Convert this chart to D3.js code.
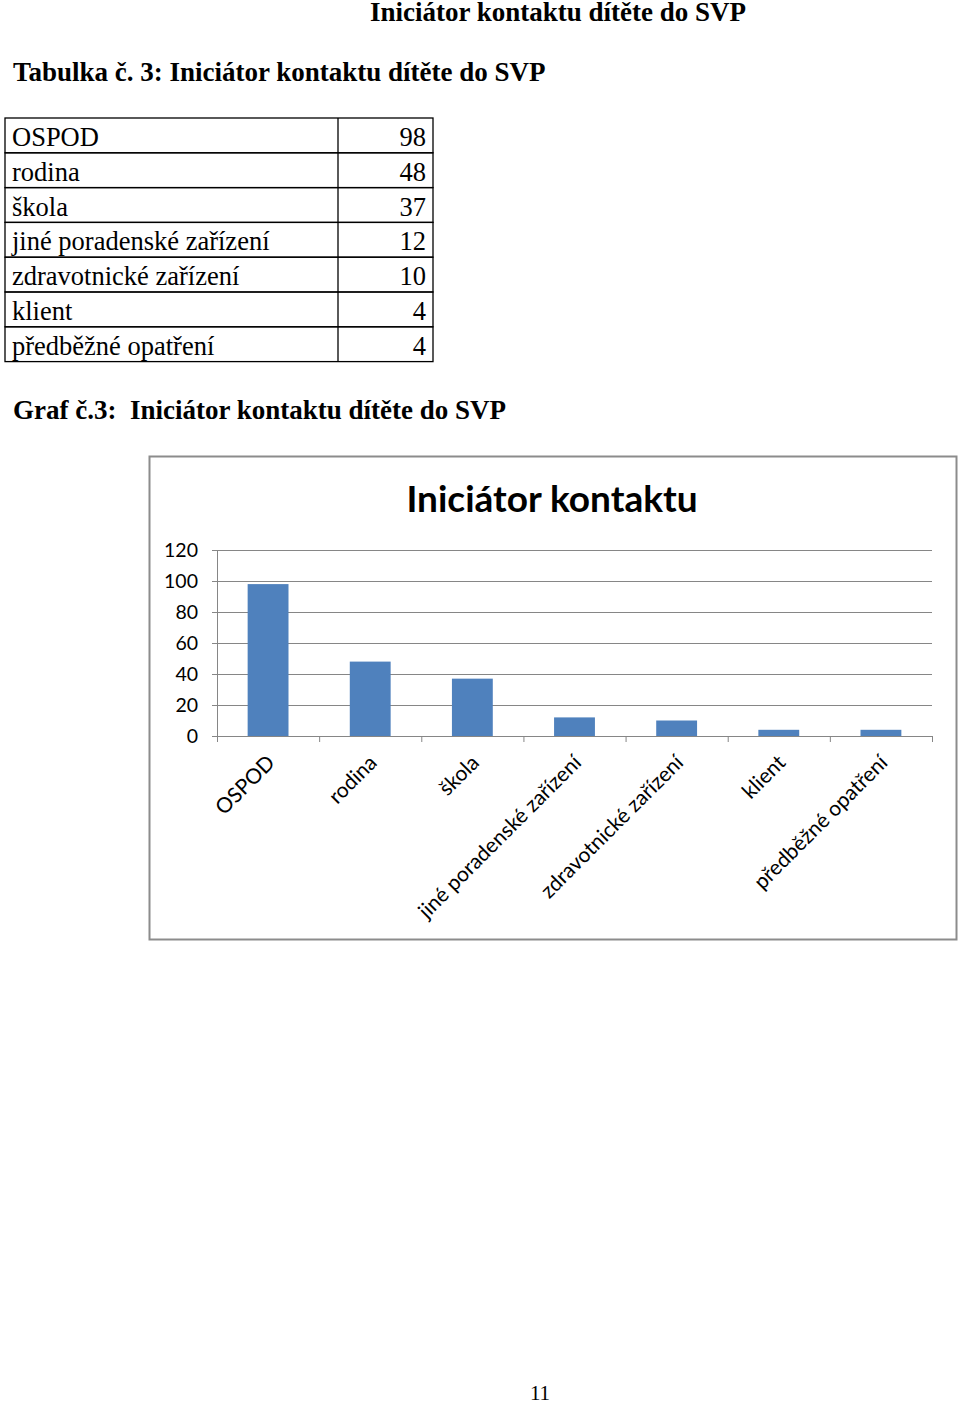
<!DOCTYPE html>
<html>
<head>
<meta charset="utf-8">
<script src="https://cdn.jsdelivr.net/npm/d3@7"></script>
<style>
  body { margin: 0; background: #fff; }
  svg text { fill: #000; }
</style>
</head>
<body>
<div id="page"></div>
<script>
// data
const categories = ["OSPOD", "rodina", "škola", "jiné poradenské zařízení", "zdravotnické zařízení", "klient", "předběžné opatření"]
const counts = [98, 48, 37, 12, 10, 4, 4]
const yTicks = [0, 20, 40, 60, 80, 100, 120]

const width = 960
const height = 1403

const svg = d3.select('#page')
    .append('svg')
    .attr('width', width)
    .attr('height', height)

const serif = "'Liberation Serif', 'Times New Roman', serif"
const sans = "Lato, 'Open Sans', sans-serif"

// page header
svg.append('text')
    .attr('x', 370).attr('y', 21)
    .attr('font-family', serif).attr('font-weight', 'bold').attr('font-size', 27)
    .text('Iniciátor kontaktu dítěte do SVP')

svg.append('text')
    .attr('x', 13).attr('y', 81)
    .attr('font-family', serif).attr('font-weight', 'bold').attr('font-size', 27)
    .text('Tabulka č. 3: Iniciátor kontaktu dítěte do SVP')

// table
const table = { left: 5, right: 433, split: 338, top: 118, rowH: 34.8 }
const tg = svg.append('g')

const rows = tg.selectAll('g.row')
    .data(categories)
    .join('g')
    .attr('class', 'row')
    .attr('transform', (d, i) => `translate(0,${table.top + i * table.rowH})`)

rows.append('rect')
    .attr('x', table.left).attr('y', 0)
    .attr('width', table.right - table.left).attr('height', table.rowH)
    .attr('fill', 'none').attr('stroke', '#000').attr('stroke-width', 1.3)

rows.append('line')
    .attr('x1', table.split).attr('x2', table.split)
    .attr('y1', 0).attr('y2', table.rowH)
    .attr('stroke', '#000').attr('stroke-width', 1.3)

rows.append('text')
    .attr('x', 12).attr('y', 28)
    .attr('font-family', serif).attr('font-size', 26.5)
    .text(d => d)

rows.append('text')
    .attr('x', 426).attr('y', 28)
    .attr('text-anchor', 'end')
    .attr('font-family', serif).attr('font-size', 26.5)
    .text((d, i) => counts[i])

svg.append('text')
    .attr('x', 13).attr('y', 419)
    .attr('font-family', serif).attr('font-weight', 'bold').attr('font-size', 27)
    .attr('xml:space', 'preserve')
    .style('white-space', 'pre')
    .text('Graf č.3:  Iniciátor kontaktu dítěte do SVP')

// chart frame
svg.append('rect')
    .attr('x', 149.5).attr('y', 456.5)
    .attr('width', 807).attr('height', 483)
    .attr('fill', '#fff')
    .attr('stroke', '#8c8c8c').attr('stroke-width', 2)

svg.append('text')
    .attr('x', 552).attr('y', 512)
    .attr('text-anchor', 'middle')
    .attr('font-family', sans).attr('font-weight', 'bold').attr('font-size', 37)
    .text('Iniciátor kontaktu')

const plot = { left: 217, right: 932, top: 550, bottom: 736 }

const x = d3.scaleBand()
    .domain(categories)
    .range([plot.left, plot.right])
    .paddingInner(0.6)
    .paddingOuter(0.3)

const y = d3.scaleLinear()
    .domain([0, 120])
    .range([plot.bottom, plot.top])

// gridlines + y labels
svg.append('g')
    .attr('transform', `translate(${plot.left},0)`)
    .call(d3.axisLeft(y).tickValues(yTicks).tickSize(5).tickPadding(14))
    .call(g => g.select('.domain').attr('stroke', '#868686'))
    .call(g => g.selectAll('.tick line').attr('stroke', '#868686'))
    .call(g => g.selectAll('.tick text')
        .attr('font-family', sans).attr('font-size', 19.5).attr('fill', '#000'))
    .call(g => g.selectAll('.tick').append('line')
        .attr('x1', 0).attr('x2', plot.right - plot.left)
        .attr('stroke', '#868686').attr('stroke-width', 1))

// bars
svg.append('g')
    .selectAll('rect')
    .data(categories)
    .join('rect')
    .attr('fill', '#4f81bd')
    .attr('x', d => x(d))
    .attr('width', x.bandwidth())
    .attr('y', (d, i) => y(counts[i]))
    .attr('height', (d, i) => y(0) - y(counts[i]))

// x axis with boundary ticks
const step = x.step()
const boundaries = d3.range(categories.length + 1)

svg.append('line')
    .attr('x1', plot.left).attr('x2', plot.right)
    .attr('y1', plot.bottom + 0.5).attr('y2', plot.bottom + 0.5)
    .attr('stroke', '#868686')

svg.append('g')
    .selectAll('line')
    .data(boundaries)
    .join('line')
    .attr('x1', i => plot.left + i * step + 0.5)
    .attr('x2', i => plot.left + i * step + 0.5)
    .attr('y1', plot.bottom).attr('y2', plot.bottom + 6)
    .attr('stroke', '#868686')

svg.append('g')
    .selectAll('text')
    .data(categories)
    .join('text')
    .attr('transform', d => `translate(${x(d) + x.bandwidth() / 2 + 8},${plot.bottom + 28}) rotate(-45)`)
    .attr('text-anchor', 'end')
    .attr('font-family', sans).attr('font-size', 21)
    .text(d => d)

// page number
svg.append('text')
    .attr('x', 540).attr('y', 1400)
    .attr('text-anchor', 'middle')
    .attr('font-family', serif).attr('font-size', 21)
    .text('11')
</script>
</body>
</html>
